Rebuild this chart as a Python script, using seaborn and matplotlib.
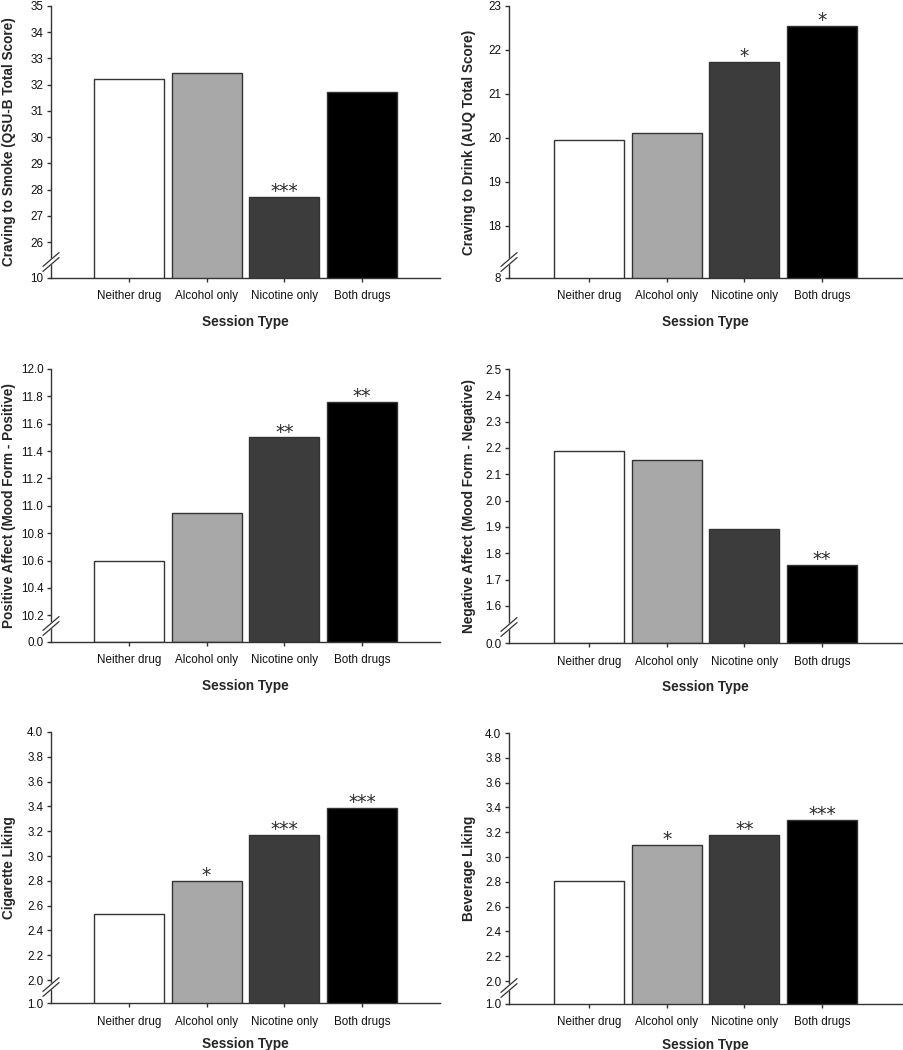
import numpy as np
import matplotlib
matplotlib.use("Agg")
import matplotlib.pyplot as plt
import seaborn as sns

# ---- data ----
sessions = ["Neither drug", "Alcohol only", "Nicotine only", "Both drugs"]
bar_colors = ["#ffffff", "#a8a8a8", "#3c3c3c", "#000000"]

smoke_craving = [32.21, 32.44, 27.71, 31.72]
smoke_stars = ["", "", "***", ""]

drink_craving = [19.96, 20.11, 21.72, 22.55]
drink_stars = ["", "", "*", "*"]

pos_affect = [10.60, 10.95, 11.50, 11.76]
pos_stars = ["", "", "**", "**"]

neg_affect = [2.19, 2.153, 1.894, 1.756]
neg_stars = ["", "", "", "**"]

cig_liking = [2.53, 2.80, 3.17, 3.39]
cig_stars = ["", "*", "***", "***"]

bev_liking = [2.81, 3.10, 3.18, 3.30]
bev_stars = ["", "*", "**", "***"]

# ylabel, values, stars, axis bottom, upper ticks, compressed gap, tick format
panels = [
    ("Craving to Smoke (QSU-B Total Score)", smoke_craving, smoke_stars, 10, np.arange(26, 36, 1), 1.37, "{:.0f}"),
    ("Craving to Drink (AUQ Total Score)", drink_craving, drink_stars, 8, np.arange(18, 24, 1), 1.19, "{:.0f}"),
    ("Positive Affect (Mood Form - Positive)", pos_affect, pos_stars, 0.0, np.arange(10.2, 12.01, 0.2), 0.195, "{:.1f}"),
    ("Negative Affect (Mood Form - Negative)", neg_affect, neg_stars, 0.0, np.arange(1.6, 2.51, 0.1), 0.141, "{:.1f}"),
    ("Cigarette Liking", cig_liking, cig_stars, 1.0, np.arange(2.0, 4.01, 0.2), 0.185, "{:.1f}"),
    ("Beverage Liking", bev_liking, bev_stars, 1.0, np.arange(2.0, 4.01, 0.2), 0.185, "{:.1f}"),
]

# axes boxes in pixels: left, right, top, bottom
W, H = 904, 1050
boxes = [
    (51, 440, 6, 278), (509, 902, 6, 278),
    (51, 440, 369, 642), (509, 902, 369, 643),
    (51, 440, 732, 1003), (509, 902, 733, 1004),
]

sns.set_style("ticks")
plt.rcParams["font.family"] = ["Liberation Sans", "DejaVu Sans"]
axis_col = "#333333"


def make_scale(b, t, g):
    # piecewise linear: values below t squeezed into g units
    def fwd(y):
        y = np.asarray(y, dtype=float)
        return np.where(y >= t, y, t - g * (t - y) / (t - b))

    def inv(z):
        z = np.asarray(z, dtype=float)
        return np.where(z >= t, z, t - (t - z) * (t - b) / g)

    return fwd, inv


fig = plt.figure(figsize=(W / 100, H / 100), dpi=100)

for i, (ylab, vals, stars, b, ticks, gap, fmt) in enumerate(panels):
    l, r, t, bt = boxes[i]
    hpx = bt - t
    wpx = r - l
    ax = fig.add_axes([l / W, 1 - bt / H, wpx / W, hpx / H])
    fwd, inv = make_scale(b, ticks[0], gap)
    ax.set_yscale("function", functions=(fwd, inv))

    sns.barplot(x=sessions, y=vals, hue=sessions, palette=bar_colors, width=0.9,
                edgecolor=axis_col, linewidth=1.0, legend=False, ax=ax)

    for j, s in enumerate(stars):
        if s:
            ax.annotate(s, (j, vals[j]), xytext=(0, -3), textcoords="offset points",
                        ha="center", va="bottom", fontsize=13.5, color="#2a2a2a",
                        family="DejaVu Sans")

    ax.set_ylim(b, ticks[-1])
    if l < 450:
        ax.set_xlim(-1.0, 4.0)
    else:
        ax.set_xlim(-1.03, 4.03)
    yt = [b] + list(ticks)
    ax.set_yticks(yt)
    ax.set_yticklabels([fmt.format(v) for v in yt])
    ax.yaxis.set_minor_locator(matplotlib.ticker.NullLocator())
    ax.tick_params(axis="both", direction="out", length=3, width=1, color=axis_col,
                   labelsize=8.4, labelcolor="#111111")
    ax.tick_params(axis="x", pad=6)
    ax.tick_params(axis="y", pad=2.5)
    ax.set_ylabel(ylab, fontsize=9.8, fontweight="bold")
    ax.set_xlabel("Session Type", fontsize=9.8, fontweight="bold")
    lab_right = 16 if l < 450 else 476
    ax.yaxis.set_label_coords((lab_right - l) / wpx, 0.5)
    xl_off = 37 if i < 4 else 34
    ax.xaxis.set_label_coords(0.5, -xl_off / hpx)
    for side in ["top", "right"]:
        ax.spines[side].set_visible(False)
    for side in ["left", "bottom"]:
        ax.spines[side].set_color(axis_col)
        ax.spines[side].set_linewidth(1)

    # axis break marks
    yb = 16 / hpx
    dx, dy, sep = 7 / wpx, 6 / hpx, 2.5 / hpx
    ax.fill([-dx, dx, dx, -dx], [yb - sep - dy, yb - sep + dy, yb + sep + dy, yb + sep - dy],
            color="white", transform=ax.transAxes, clip_on=False, zorder=5)
    for off in (-sep, sep):
        ax.plot([-dx * 1.15, dx * 1.15], [yb + off - dy * 1.15, yb + off + dy * 1.15],
                color=axis_col, lw=0.9, transform=ax.transAxes, clip_on=False, zorder=6)

fig.savefig("out.png", dpi=100, facecolor="white")
